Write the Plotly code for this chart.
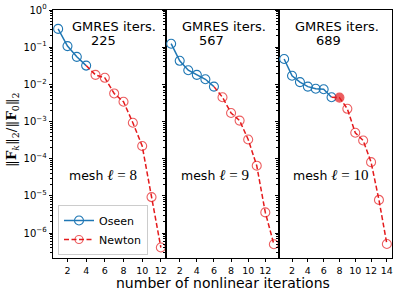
import plotly.graph_objects as go

# ---- data ----
iters_l8 = list(range(1, 13))
res_l8 = [0.31, 0.107, 0.055, 0.032, 0.018, 0.015, 0.0057, 0.0034, 9.3e-4, 2.2e-4, 9.3e-6, 4.1e-7]
n_oseen_l8 = 4

iters_l9 = list(range(1, 14))
res_l9 = [0.124, 0.043, 0.024, 0.018, 0.0137, 0.0087, 0.0045, 0.0017, 0.00106, 3.3e-4, 6.5e-5, 3.6e-6, 5.0e-7]
n_oseen_l9 = 6

iters_l10 = list(range(1, 15))
res_l10 = [0.048, 0.017, 0.0115, 0.0087, 0.0076, 0.0074, 0.0045, 0.0044, 0.0022, 5.0e-4, 3.1e-4, 8.1e-5, 7.8e-6, 5.1e-7]
n_oseen_l10 = 7
filled_iter_l10 = 8

gmres_iters = ["225", "567", "689"]
mesh_levels = ["8", "9", "10"]
xtick_vals = [[2, 4, 6, 8, 10, 12], [2, 4, 6, 8, 10, 12], [2, 4, 6, 8, 10, 12, 14]]
ytick_exps = [0, -1, -2, -3, -4, -5, -6]

BLUE = "#1f77b4"
RED = "#e41a1c"

panels = [
    (iters_l8, res_l8, n_oseen_l8, None),
    (iters_l9, res_l9, n_oseen_l9, None),
    (iters_l10, res_l10, n_oseen_l10, filled_iter_l10),
]

fig = go.Figure()
W, H = 399, 297
L, R, T, B = 53, 7, 10, 39
pw = W - L - R
ph = H - T - B

for i, (its, res, no, filled) in enumerate(panels):
    xa = "x" if i == 0 else f"x{i+1}"
    ya = "y" if i == 0 else f"y{i+1}"
    fig.add_trace(go.Scatter(
        x=its[:no], y=res[:no], mode="lines+markers", name="Oseen",
        xaxis=xa, yaxis=ya, showlegend=(i == 0),
        line=dict(color=BLUE, width=1.5),
        marker=dict(symbol="circle-open", size=9, color=BLUE, line=dict(width=1.1)),
    ))
    nx = its[no - 1:]
    ny = res[no - 1:]
    sizes = [0] + [9] * (len(nx) - 1)
    symbols = ["circle" if (filled is not None and v == filled) else "circle-open" for v in nx]
    fig.add_trace(go.Scatter(
        x=nx, y=ny, mode="lines+markers", name="Newton",
        xaxis=xa, yaxis=ya, showlegend=(i == 0),
        line=dict(color=RED, width=1.5, dash="5px,2.5px"),
        marker=dict(symbol=symbols, size=sizes, color=RED, line=dict(width=1.1, color=RED)),
    ))

minor_vals = [m * 10 ** e for e in range(-7, 1) for m in range(2, 10)]
tickvals = [10 ** e for e in ytick_exps]
ticktext = ["10<sup>%s</sup>" % (str(e).replace("-", "\u2212")) for e in ytick_exps]

layout = dict(
    template="none",
    width=W, height=H, margin=dict(l=L, r=R, t=T, b=B, pad=0, autoexpand=False),
    paper_bgcolor="white", plot_bgcolor="white",
    font=dict(family="DejaVu Sans", color="black", size=10),
    showlegend=True,
    legend=dict(x=(58 - L) / pw, y=(258 - 255) / ph, xanchor="left", yanchor="bottom",
                bgcolor="rgba(255,255,255,0.85)", bordercolor="#cccccc", borderwidth=1,
                font=dict(size=11, family="DejaVu Sans"), itemwidth=30,
                tracegroupgap=0),
)

for i in range(3):
    n = len(panels[i][0])
    pad = (n - 1) * 0.05
    xk = "xaxis" if i == 0 else f"xaxis{i+1}"
    yk = "yaxis" if i == 0 else f"yaxis{i+1}"
    ya = "y" if i == 0 else f"y{i+1}"
    xa = "x" if i == 0 else f"x{i+1}"
    layout[xk] = dict(
        domain=[i / 3, (i + 1) / 3], range=[1 - pad, n + pad], anchor=ya,
        tickmode="array", tickvals=xtick_vals[i], ticks="outside", ticklen=3.5,
        tickwidth=0.8, tickcolor="black", showgrid=False, zeroline=False, showline=True,
        linecolor="black", linewidth=0.8, mirror=True, tickfont=dict(size=9.5),
        automargin=False,
    )
    layout[yk] = dict(
        type="log", range=[-6.67, 0.0], anchor=xa, domain=[0, 1],
        tickmode="array", tickvals=tickvals, ticktext=ticktext,
        showticklabels=(i == 0), ticks="outside", ticklen=3.5, tickwidth=0.8,
        tickcolor="black",
        showgrid=False, zeroline=False, showline=True, linecolor="black",
        linewidth=0.8, mirror=True, tickfont=dict(size=10), automargin=False,
        minor=dict(tickmode="array", tickvals=minor_vals, ticks="outside",
                   ticklen=2, tickwidth=0.6, tickcolor="black", showgrid=False),
    )

fig.update_layout(**layout)

def px_x(p):
    return (p - L) / pw

def px_y(p):
    return (H - B - p) / ph

gm_centers = [113.5, 224, 337]
num_centers = [103.5, 211, 328]
mesh_centers = [103, 215, 331]
for i in range(3):
    fig.add_annotation(text="GMRES iters.", x=px_x(gm_centers[i]), y=px_y(26),
                       xref="paper", yref="paper", showarrow=False,
                       xanchor="center", yanchor="middle",
                       font=dict(size=13, family="DejaVu Sans"))
    fig.add_annotation(text=gmres_iters[i], x=px_x(num_centers[i]), y=px_y(40.5),
                       xref="paper", yref="paper", showarrow=False,
                       xanchor="center", yanchor="middle",
                       font=dict(size=13, family="DejaVu Sans"))
    fig.add_annotation(
        text="mesh <span style='font-family:Liberation Serif;font-size:15px'><i>\u2113</i> = %s</span>" % mesh_levels[i],
        x=px_x(mesh_centers[i]), y=px_y(174.5), xref="paper", yref="paper",
        showarrow=False, xanchor="center", yanchor="middle",
        font=dict(size=12.5, family="DejaVu Sans"))

fig.add_annotation(text="number of nonlinear iterations", x=px_x(223), y=px_y(283),
                   xref="paper", yref="paper", showarrow=False,
                   xanchor="center", yanchor="middle",
                   font=dict(size=14, family="DejaVu Sans"))
fig.add_annotation(
    text="\u2016<b>F</b><sub><i>k</i></sub>\u2016<sub>2</sub>/\u2016<b>F</b><sub>0</sub>\u2016<sub>2</sub>",
    x=px_x(12), y=px_y(130), xref="paper", yref="paper", showarrow=False,
    textangle=-90, xanchor="center", yanchor="middle",
    font=dict(size=13.5, family="DejaVu Serif"))

fig.write_html("out.html", config={"displayModeBar": False},
               post_script="document.body.style.margin='0';document.body.style.padding='0';")
